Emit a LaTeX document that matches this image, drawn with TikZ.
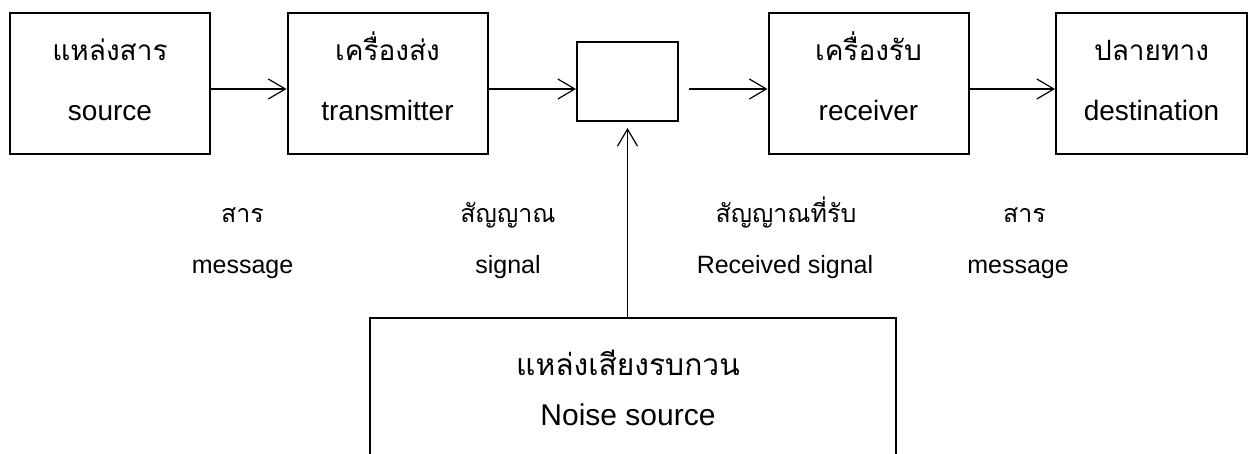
\documentclass[tikz,border=0pt]{standalone}
\usepackage{fontspec}
\setmainfont{Liberation Sans}
\newfontfamily\thaifont[Script=Thai]{Loma}
\usetikzlibrary{arrows.meta}

\begin{document}
\begin{tikzpicture}[x=0.5pt,y=-0.5pt,%%
  boxStyle/.style={draw,line width=1pt,inner sep=0pt,minimum width=100pt,minimum height=70.5pt},%%
  arrowStyle/.style={-{Straight Barb[length=8.5pt,width=10pt]},line width=0.6pt},%%
  thaiStyle/.style={anchor=base,inner sep=0pt,font=\thaifont\fontsize{14}{16}\selectfont},%%
  textStyle/.style={anchor=base,inner sep=0pt,font=\fontsize{14}{16}\selectfont},%%
  thaiLabelStyle/.style={thaiStyle,font=\thaifont\fontsize{12.5}{15}\selectfont},%%
  labelStyle/.style={textStyle,font=\fontsize{12.5}{15}\selectfont}%%
]
%%
%% Picture size, and cut off the noise box at the bottom.
\clip (0,0) rectangle (1249,454);
%%
\pgfmathsetmacro{\yBox}{83.5}   %% centre line of the top boxes
\pgfmathsetmacro{\ya}{89}       %% the line of the arrows
\pgfmathsetmacro{\yTh}{61}      %% Thai baseline in the boxes
\pgfmathsetmacro{\yEn}{121}     %% English baseline in the boxes
\pgfmathsetmacro{\yLTh}{223}    %% Thai baseline of the labels
\pgfmathsetmacro{\yLEn}{274}    %% English baseline of the labels
%%
%% The top row of boxes.
\node[boxStyle] (source) at (110,\yBox) {};
\node[boxStyle] (transmitter) at (387.5,\yBox) {};
\node[boxStyle,minimum width=50.5pt,minimum height=39.5pt] (channel) at (627.5,81.5) {};
\node[boxStyle] (receiver) at (868.5,\yBox) {};
\node[boxStyle,minimum width=95.5pt] (destination) at (1151.5,\yBox) {};
%%
%% Texts in the boxes.
\node[thaiStyle] (sourceTh) at (110,\yTh) {แหล่งสาร};
\node[textStyle] (sourceEn) at (110,\yEn) {source};
\node[thaiStyle] (transmitterTh) at (387.5,\yTh) {เครื่องส่ง};
\node[textStyle] (transmitterEn) at (387.5,\yEn) {transmitter};
\node[thaiStyle] (receiverTh) at (868.5,\yTh) {เครื่องรับ};
\node[textStyle] (receiverEn) at (868.5,\yEn) {receiver};
\node[thaiStyle] (destinationTh) at (1151.5,\yTh) {ปลายทาง};
\node[textStyle] (destinationEn) at (1151.5,\yEn) {destination};
%%
%% The noise box, below the channel.
\node[boxStyle,minimum width=263pt,minimum height=101pt] (noise) at (633,419) {};
\node[thaiStyle,font=\thaifont\fontsize{15}{17}\selectfont] (noiseTh) at (628,376) {แหล่งเสียงรบกวน};
\node[textStyle,font=\fontsize{15}{17}\selectfont] (noiseEn) at (628,426) {Noise source};
%%
%% Arrows between the boxes.
\draw[arrowStyle] (source.east |- 0,\ya) -- (transmitter.west |- 0,\ya);
\draw[arrowStyle] (transmitter.east |- 0,\ya) -- (channel.west |- 0,\ya);
\draw[arrowStyle,shorten <=5pt] (channel.east |- 0,\ya) -- (receiver.west |- 0,\ya);
\draw[arrowStyle] (receiver.east |- 0,\ya) -- (destination.west |- 0,\ya);
\draw[arrowStyle,shorten >=3pt] (noise.north -| channel.south) -- (channel.south);
%%
%% Labels under the arrows.
\node[thaiLabelStyle] (messageTh) at (242.5,\yLTh) {สาร};
\node[labelStyle] (messageEn) at (242.5,\yLEn) {message};
\node[thaiLabelStyle] (signalTh) at (508,\yLTh) {สัญญาณ};
\node[labelStyle] (signalEn) at (508,\yLEn) {signal};
\node[thaiLabelStyle] (receivedTh) at (786,\yLTh) {สัญญาณที่รับ};
\node[labelStyle] (receivedEn) at (785,\yLEn) {Received signal};
\node[thaiLabelStyle] (outMessageTh) at (1024.5,\yLTh) {สาร};
\node[labelStyle] (outMessageEn) at (1018,\yLEn) {message};
\end{tikzpicture}
\end{document}
